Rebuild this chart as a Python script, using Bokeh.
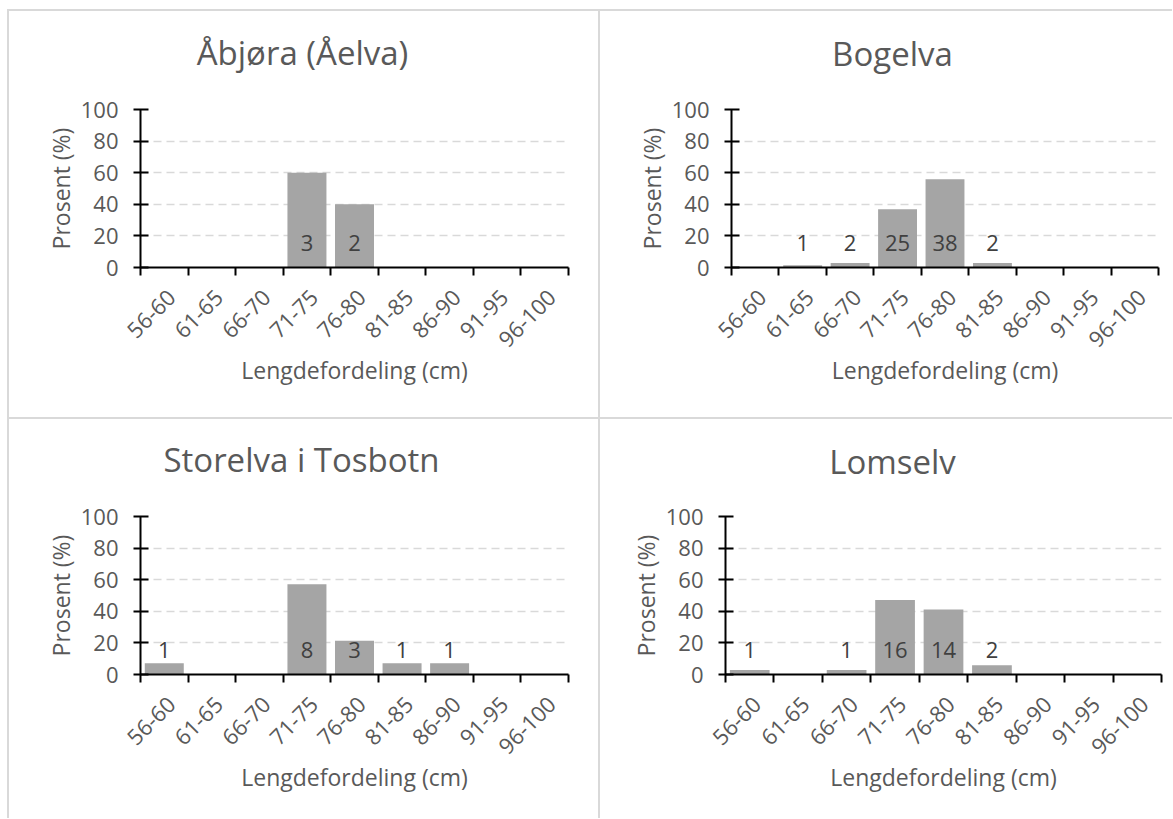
import math
from bokeh.plotting import figure
from bokeh.models import Range1d, FixedTicker, Label
from bokeh.layouts import row, column
from bokeh.core.properties import value
from bokeh.embed import file_html
from bokeh.resources import INLINE

# ---------------- data ----------------
length_classes = ["56-60", "61-65", "66-70", "71-75", "76-80", "81-85", "86-90", "91-95", "96-100"]

titles = ["Åbjøra (Åelva)", "Bogelva", "Storelva i Tosbotn", "Lomselv"]

abjora_pct = [0, 0, 0, 60, 40, 0, 0, 0, 0]
abjora_n = [0, 0, 0, 3, 2, 0, 0, 0, 0]

bogelva_pct = [0, 1.5, 2.9, 36.8, 55.9, 2.9, 0, 0, 0]
bogelva_n = [0, 1, 2, 25, 38, 2, 0, 0, 0]

storelva_pct = [7.1, 0, 0, 57.1, 21.4, 7.1, 7.1, 0, 0]
storelva_n = [1, 0, 0, 8, 3, 1, 1, 0, 0]

lomselv_pct = [2.9, 0, 2.9, 47.1, 41.2, 5.9, 0, 0, 0]
lomselv_n = [1, 0, 1, 16, 14, 2, 0, 0, 0]

y_ticks = [0, 20, 40, 60, 80, 100]
x_title = "Lengdefordeling (cm)"
y_title = "Prosent (%)"

# ---------------- styling / geometry ----------------
FONT = "Open Sans"
TEXT = "#595959"
LABEL = "#404040"
BAR = "#a5a5a5"
GRID = "#d9d9d9"

# width, height, left, right, top, bottom, title_x, title_y (px, relative to frame)
geometry = [
    (591, 408, 133, 30, 100, 150, 162, 57),
    (574, 408, 133, 14, 99, 150, 161, 56),
    (591, 401, 133, 30, 99, 144, 161, 57),
    (574, 401, 127, 11, 96, 141, 167, 55),
]

series = [
    (abjora_pct, abjora_n),
    (bogelva_pct, bogelva_n),
    (storelva_pct, storelva_n),
    (lomselv_pct, lomselv_n),
]


def make_panel(title, pct, counts, geo):
    w, h, ml, mr, mt, mb, tx, ty = geo
    p = figure(
        width=w, height=h,
        x_range=Range1d(0, len(length_classes)), y_range=Range1d(0, 100),
        output_backend="svg", toolbar_location=None,
        min_border_left=ml, min_border_right=mr, min_border_top=mt, min_border_bottom=mb,
        outline_line_color=None, background_fill_color=None, border_fill_color=None,
        styles={"box-shadow": "inset 2px 2px 0 0 #d9d9d9"},
    )
    centers = [i + 0.5 for i in range(len(length_classes))]
    p.vbar(x=centers, top=pct, width=0.82, bottom=0, fill_color=BAR, line_color=None)

    lx = [c for c, n in zip(centers, counts) if n > 0]
    lt = [str(n) for n in counts if n > 0]
    p.text(x=lx, y=[0] * len(lx), text=lt, text_align="center", text_baseline="middle",
           y_offset=-25, text_font=value(FONT), text_font_size="22px", text_color=LABEL)

    # x axis: labels near category centres, tick marks on category boundaries
    label_pos = [c + 0.15 for c in centers]
    xa = p.xaxis[0]
    xa.ticker = FixedTicker(ticks=label_pos, minor_ticks=list(range(len(length_classes) + 1)))
    xa.major_label_overrides = {c: lab for c, lab in zip(label_pos, length_classes)}
    xa.major_label_orientation = math.pi / 4
    xa.major_tick_in = 0
    xa.major_tick_out = 0
    xa.minor_tick_in = 0
    xa.minor_tick_out = 8
    xa.minor_tick_line_color = "black"
    xa.minor_tick_line_width = 2
    xa.major_label_standoff = 18
    xa.axis_label = x_title
    xa.axis_label_standoff = -3

    ya = p.yaxis[0]
    ya.ticker = FixedTicker(ticks=y_ticks)
    ya.major_tick_in = 8
    ya.major_tick_out = 7
    ya.minor_tick_line_color = None
    ya.major_label_standoff = 15
    ya.axis_label = y_title
    ya.axis_label_standoff = 1

    for ax in (xa, ya):
        ax.axis_line_color = "black"
        ax.axis_line_width = 2
        ax.major_tick_line_color = "black"
        ax.major_tick_line_width = 2
        ax.major_label_text_font = FONT
        ax.major_label_text_font_size = "22px"
        ax.major_label_text_color = TEXT
        ax.axis_label_text_font = FONT
        ax.axis_label_text_font_size = "23px"
        ax.axis_label_text_font_style = "normal"
        ax.axis_label_text_color = TEXT

    p.xgrid.visible = False
    p.ygrid.ticker = FixedTicker(ticks=y_ticks[1:])
    p.ygrid.grid_line_color = GRID
    p.ygrid.grid_line_width = 1.5
    p.ygrid.grid_line_dash = "8 5"

    p.add_layout(Label(x=tx, y=ty, x_units="screen", y_units="screen", text=title,
                       text_align="center", text_baseline="alphabetic",
                       text_font=FONT, text_font_size="33px", text_color=TEXT), "above")
    return p


panels = [make_panel(t, s[0], s[1], g) for t, s, g in zip(titles, series, geometry)]
layout = column(row(panels[0], panels[1]), row(panels[2], panels[3]), margin=(9, 0, 0, 7))

open("out.html", "w").write(file_html(layout, INLINE))
